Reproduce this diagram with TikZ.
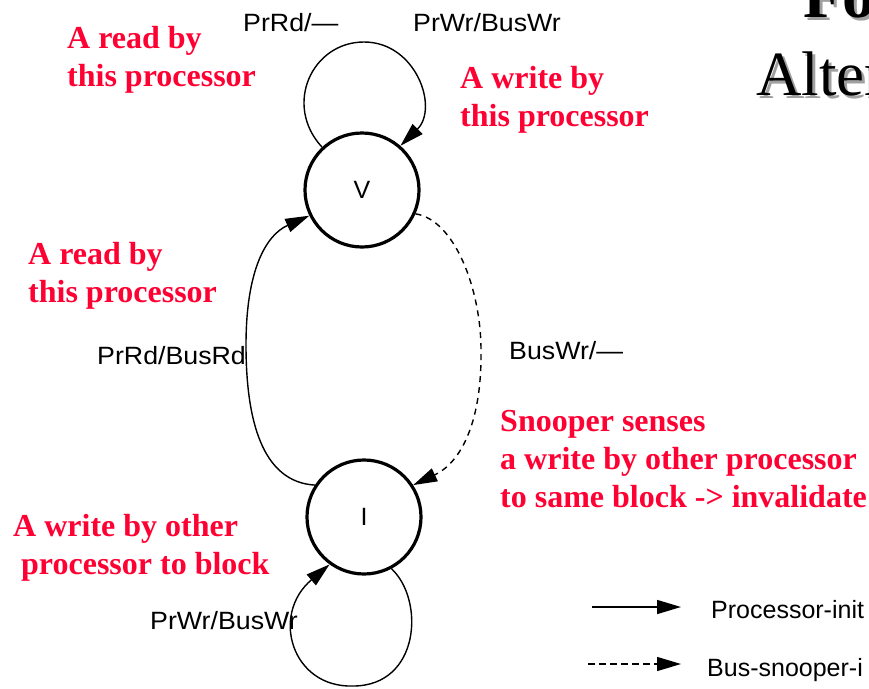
\documentclass[tikz,border=0pt]{standalone}
\usepackage{fontspec}
\setmainfont{Liberation Serif}
\newfontfamily\arialfont{Liberation Sans}
\usetikzlibrary{arrows.meta}
\definecolor{notered}{HTML}{FF0033}
\definecolor{shadowgray}{HTML}{A0A0A0}

\begin{document}
\begin{tikzpicture}[x=1pt,y=-1pt,
  state/.style={circle, draw, line width=3.2pt, minimum size=114pt, inner sep=0pt,
                font=\arialfont\fontsize{25}{30}\selectfont},
  keytext/.style={font=\arialfont\fontsize{25}{30}\selectfont, inner sep=0pt, anchor=base west},
  lbl/.style={keytext, xscale=1.07},
  note/.style={text=notered, font=\bfseries\fontsize{32}{38}\selectfont, align=left,
               inner sep=0pt, anchor=north west},
  heading/.style={font=\fontsize{63}{70}\selectfont, inner sep=0pt, anchor=base west},
  trans/.style={line width=1.4pt, -{Triangle[length=24pt,width=14pt]}},
  snoop/.style={trans, dash pattern=on 6pt off 5pt},
]
\clip (0,0) rectangle (869,688);

% slide heading, partly off the page
\node[heading, text=shadowgray, font=\bfseries\fontsize{65}{70}\selectfont] (titleAshadow) at (806,20) {Fo};
\node[heading, font=\bfseries\fontsize{65}{70}\selectfont] (titleA) at (803,17) {Fo};
\node[heading, text=shadowgray] (titleBshadow) at (759,98) {Alter};
\node[heading] (titleB) at (756,95) {Alter};

% states
\node[state] (V) at (362,190) {V};
\node[state] (I) at (364,517) {I};

% self loop on V
\draw[trans] (V.133) .. controls (283,105) and (312,42) .. (364,42)
                     .. controls (416,42) and (439,108) .. (V.49);
% self loop on I
\draw[trans] (I.-62) .. controls (425,600) and (420,686) .. (353,686)
                     .. controls (292,688) and (270,615) .. (I.-126);
% I -> V (processor read)
\draw[trans] (I.147) .. controls (262,482) and (246,420) .. (246,345)
                     .. controls (246,270) and (266,235) .. (V.206);
% V -> I (snooped write)
\draw[snoop] (V.-24) .. controls (455,220) and (481,290) .. (481,350)
                     .. controls (482,420) and (462,462) .. (I.33);

% transition labels
\node[lbl] (lRdV) at (243,31) {PrRd/\textemdash};
\node[lbl] (lWrV) at (413,31) {PrWr/BusWr};
\node[lbl] (lRdI) at (97,364) {PrRd/BusRd};
\node[lbl] (lSnp) at (509,359) {BusWr/\textemdash};
\node[lbl] (lWrI) at (150,629) {PrWr/BusWr};

% explanatory notes
\node[note] (nRdV) at (67,26) {A read by\\this processor};
\node[note] (nWrV) at (460,66) {A write by\\this processor};
\node[note] (nRdI) at (28,242) {A read by\\this processor};
\node[note] (nSnp) at (500,410) {Snooper senses\\a write by other processor\\to same block -> invalidate};
\node[note] (nWrI) at (13,514) {A write by other\\\hspace*{8pt}processor to block};

% legend
\coordinate (legPa) at (592,607);
\coordinate (legPb) at (681,607);
\coordinate (legSa) at (588,664);
\coordinate (legSb) at (681,664);
\draw[trans] (legPa) -- (legPb);
\draw[snoop, dash pattern=on 7pt off 4pt] (legSa) -- (legSb);
\node[keytext] (legP) at (711,618) {Processor-init};
\node[keytext] (legS) at (707,676) {Bus-snooper-i};
\end{tikzpicture}
\end{document}
